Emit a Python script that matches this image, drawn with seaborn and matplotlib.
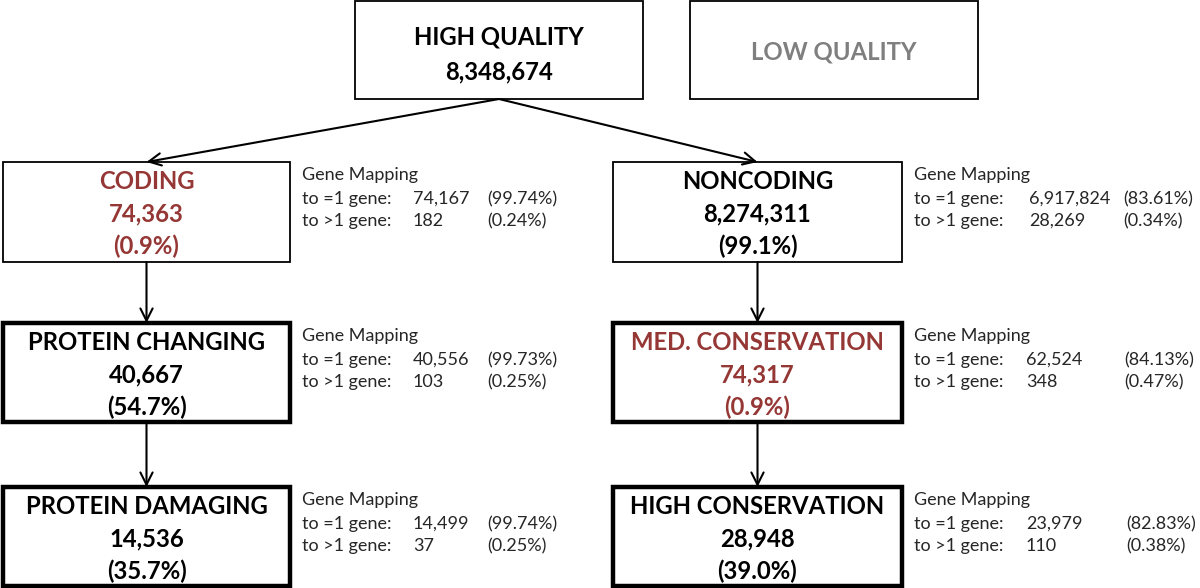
import matplotlib
matplotlib.use("Agg")
import matplotlib.pyplot as plt
from matplotlib.patches import Rectangle
import seaborn as sns

# данные схемы
box_titles = ["HIGH QUALITY", "LOW QUALITY", "CODING", "NONCODING",
              "PROTEIN CHANGING", "MED. CONSERVATION",
              "PROTEIN DAMAGING", "HIGH CONSERVATION"]
box_counts = ["8,348,674", "", "74,363", "8,274,311",
              "40,667", "74,317", "14,536", "28,948"]
box_pcts = ["", "", "(0.9%)", "(99.1%)", "(54.7%)", "(0.9%)", "(35.7%)", "(39.0%)"]
highlight = [False, False, True, False, False, True, False, False]
muted = [False, True, False, False, False, False, False, False]

# gene mapping для боксов 2..7
map_eq1 = ["74,167", "6,917,824", "40,556", "62,524", "14,499", "23,979"]
map_eq1_pct = ["(99.74%)", "(83.61%)", "(99.73%)", "(84.13%)", "(99.74%)", "(82.83%)"]
map_gt1 = ["182", "28,269", "103", "348", "37", "110"]
map_gt1_pct = ["(0.24%)", "(0.34%)", "(0.25%)", "(0.47%)", "(0.25%)", "(0.38%)"]

# связи (откуда, куда)
edges = [(0, 2), (0, 3), (2, 4), (3, 5), (4, 6), (5, 7)]

# раскладка в пикселях: x0, y0, x1, y1
layout = [(355, 1, 643, 99), (690, 1, 978, 99),
          (3, 162, 290, 262), (613, 162, 902, 262),
          (3, 323, 290, 422), (613, 323, 902, 422),
          (3, 487, 290, 586), (613, 487, 902, 586)]
border_w = [1.3, 1.3, 1.3, 1.3, 3.2, 3.2, 3.2, 3.2]
# смещения колонок с числами и процентами от начала подписи
num_off = [111, 115, 111, 112, 111, 112]
pct_off = [185, 209, 185, 210, 185, 212]

RED = "#953735"
GRAY = "#7f7f7f"
FS_BOX = 17.2
FS_MAP = 13

sns.set_theme(style="white")
plt.rcParams["font.family"] = ["Lato", "DejaVu Sans"]

fig = plt.figure(figsize=(12, 5.88), dpi=100)
ax = fig.add_axes([0, 0, 1, 1])
ax.set_xlim(0, 1200)
ax.set_ylim(588, 0)
ax.axis("off")

for i, (x0, y0, x1, y1) in enumerate(layout):
    ax.add_patch(Rectangle((x0, y0), x1 - x0, y1 - y0, fill=False,
                           edgecolor="black", linewidth=border_w[i], zorder=2))
    cx = (x0 + x1) / 2
    col = RED if highlight[i] else (GRAY if muted[i] else "black")
    if muted[i]:
        ax.text(cx, (y0 + y1) / 2 + 2, box_titles[i], ha="center", va="center",
                fontsize=FS_BOX, fontweight="bold", color=col)
    elif box_pcts[i] == "":
        ax.text(cx, y0 + 36, box_titles[i], ha="center", va="center",
                fontsize=FS_BOX, fontweight="bold", color=col)
        ax.text(cx, y0 + 71, box_counts[i], ha="center", va="center",
                fontsize=FS_BOX, fontweight="bold", color=col)
    else:
        for k, s in enumerate([box_titles[i], box_counts[i], box_pcts[i]]):
            ax.text(cx, y0 + 19.5 + 32.5 * k, s, ha="center", va="center",
                    fontsize=FS_BOX, fontweight="bold", color=col, zorder=3)

# стрелки
for a, b in edges:
    xa0, ya0, xa1, ya1 = layout[a]
    xb0, yb0, xb1, yb1 = layout[b]
    start = ((xa0 + xa1) / 2, ya1)
    end = ((xb0 + xb1) / 2, yb0)
    ax.annotate("", xy=end, xytext=start,
                arrowprops=dict(arrowstyle="->", color="black", lw=1.5,
                                mutation_scale=22, shrinkA=0, shrinkB=0))

# подписи gene mapping
for j in range(6):
    x0, y0, x1, y1 = layout[j + 2]
    tx = x1 + 12
    num_x = tx + num_off[j]
    pct_x = tx + pct_off[j]
    ax.text(tx, y0 + 13, "Gene Mapping", ha="left", va="center", fontsize=FS_MAP)
    ax.text(tx, y0 + 37, "to =1 gene:", ha="left", va="center", fontsize=FS_MAP)
    ax.text(tx, y0 + 59, "to >1 gene:", ha="left", va="center", fontsize=FS_MAP)
    ax.text(num_x, y0 + 37, map_eq1[j], ha="left", va="center", fontsize=FS_MAP)
    ax.text(num_x, y0 + 59, map_gt1[j], ha="left", va="center", fontsize=FS_MAP)
    ax.text(pct_x, y0 + 37, map_eq1_pct[j], ha="left", va="center", fontsize=FS_MAP)
    ax.text(pct_x, y0 + 59, map_gt1_pct[j], ha="left", va="center", fontsize=FS_MAP)

fig.savefig("out.png", dpi=100, facecolor="white")
